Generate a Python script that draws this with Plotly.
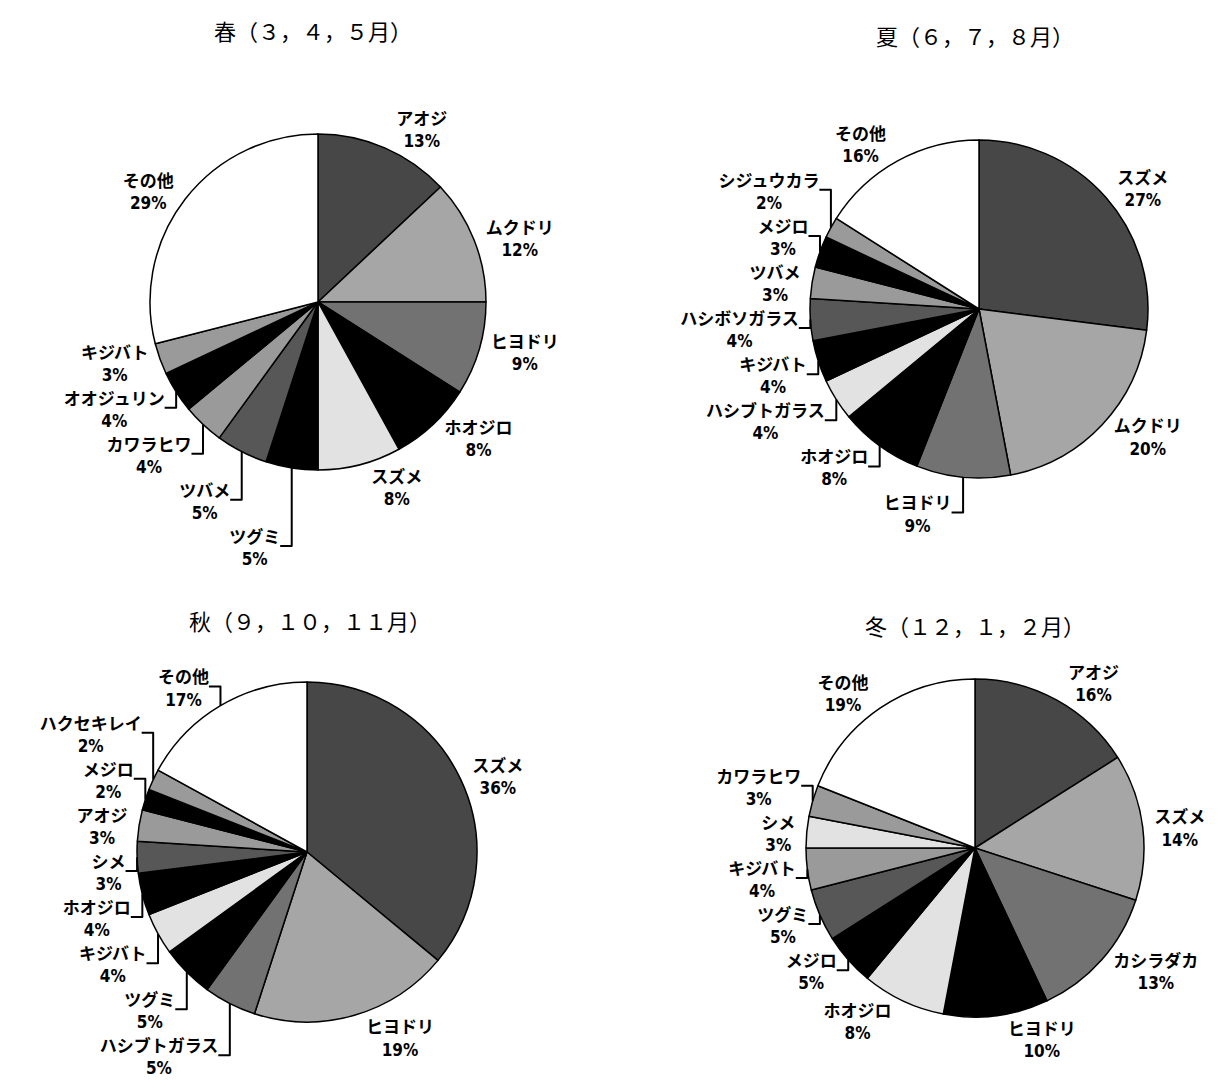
import plotly.graph_objects as go

# ---- data ----
spring_labels = ["アオジ", "ムクドリ", "ヒヨドリ", "ホオジロ", "スズメ", "ツグミ", "ツバメ",
                 "カワラヒワ", "オオジュリン", "キジバト", "その他"]
spring_values = [13, 12, 9, 8, 8, 5, 5, 4, 4, 3, 29]

summer_labels = ["スズメ", "ムクドリ", "ヒヨドリ", "ホオジロ", "ハシブトガラス", "キジバト",
                 "ハシボソガラス", "ツバメ", "メジロ", "シジュウカラ", "その他"]
summer_values = [27, 20, 9, 8, 4, 4, 4, 3, 3, 2, 16]

autumn_labels = ["スズメ", "ヒヨドリ", "ハシブトガラス", "ツグミ", "キジバト", "ホオジロ",
                 "シメ", "アオジ", "メジロ", "ハクセキレイ", "その他"]
autumn_values = [36, 19, 5, 5, 4, 4, 3, 3, 2, 2, 17]

winter_labels = ["アオジ", "スズメ", "カシラダカ", "ヒヨドリ", "ホオジロ", "メジロ", "ツグミ",
                 "キジバト", "シメ", "カワラヒワ", "その他"]
winter_values = [16, 14, 13, 10, 8, 5, 5, 4, 3, 3, 19]

titles = ["春（３，４，５月）", "夏（６，７，８月）", "秋（９，１０，１１月）", "冬（１２，１，２月）"]

# ---- styles ----
DARK, MID, DMID, BLK, LIGHT, DARK2, MID2, WHT = (
    "#474747", "#a6a6a6", "#727272", "#000000", "#e2e2e2", "#575757", "#9a9a9a", "#ffffff")
cycle = [DARK, MID, DMID, BLK, LIGHT, BLK, DARK2, MID2, BLK, MID2, WHT]
winter_colors = [DARK, MID, DMID, BLK, LIGHT, BLK, DARK2, MID2, LIGHT, MID2, WHT]

W, H = 1218, 1089
OFF = 8  # page body margin
# (cx, cy, r) in page pixels
geoms = [(318, 302, 168), (979, 309, 169), (307, 852, 170), (975, 848, 169)]
title_pos = [(313, 30), (975, 35), (310, 620), (975, 625)]

FONT = "Noto Sans CJK JP"
PCT_FONT = "Liberation Sans Narrow, DejaVu Sans Condensed, sans-serif"

fig = go.Figure()
datasets = [
    (spring_labels, spring_values, cycle),
    (summer_labels, summer_values, cycle),
    (autumn_labels, autumn_values, cycle),
    (winter_labels, winter_values, winter_colors),
]
template = ("%{label}<br><span style='font-family:" + PCT_FONT +
            ";font-size:17px;font-weight:bold'>%{value}%</span>")
for (labs, vals, cols), (cx, cy, r) in zip(datasets, geoms):
    cx -= OFF
    cy -= OFF
    fig.add_trace(go.Pie(
        labels=labs, values=vals, sort=False, direction="clockwise", rotation=0,
        marker=dict(colors=cols, line=dict(color="black", width=1.5)),
        texttemplate=template, textposition="outside",
        outsidetextfont=dict(family=FONT, size=17, color="black", weight="bold"),
        domain=dict(x=[(cx - r) / W, (cx + r) / W], y=[1 - (cy + r) / H, 1 - (cy - r) / H]),
        showlegend=False, hoverinfo="label+value",
    ))

for t, (tx, ty) in zip(titles, title_pos):
    fig.add_annotation(text=t, x=(tx - OFF) / W, y=1 - (ty - OFF) / H, xref="paper", yref="paper",
                       showarrow=False, font=dict(family=FONT, size=22, color="black"),
                       xanchor="center", yanchor="middle")

fig.update_layout(width=W, height=H, margin=dict(l=0, r=0, t=0, b=0),
                  paper_bgcolor="white", plot_bgcolor="white", autosize=False)
fig.write_html("out.html")
